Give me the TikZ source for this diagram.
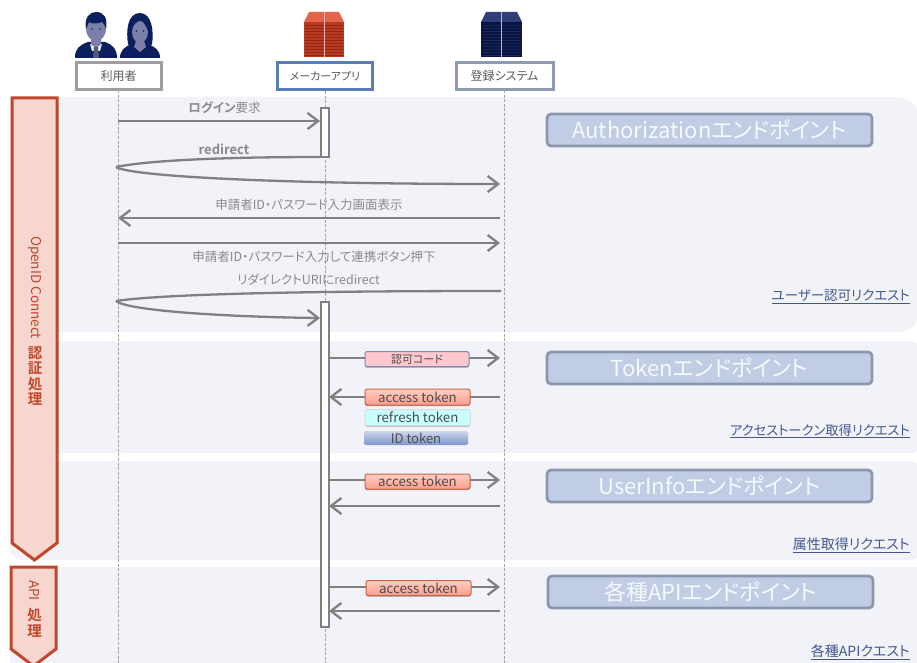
\documentclass[tikz,border=0pt]{standalone}
\usepackage{fontspec}
\setmainfont{Noto Sans CJK JP}[RawFeature=+palt]
\newfontfamily\jpbold{Noto Sans CJK JP Bold}[RawFeature=+palt]
\usetikzlibrary{arrows.meta,shadows,calc}
\definecolor{bandc}{HTML}{F1F3F9}
\definecolor{msgc}{HTML}{808080}
\definecolor{txtc}{HTML}{8A8A8A}
\definecolor{redc}{HTML}{C0472B}
\definecolor{redf}{HTML}{F6D6CF}
\definecolor{epf}{HTML}{C0CDE4}
\definecolor{epd}{HTML}{8C97AC}
\definecolor{linkc}{HTML}{44588F}
\definecolor{navy}{HTML}{0B1F5E}
\definecolor{facec}{HTML}{7A80A8}
\definecolor{hdrblue}{HTML}{5B7DB8}
\definecolor{hdrgrey}{HTML}{8F9BB3}
\definecolor{codeb}{HTML}{7F86C0}
\definecolor{codef}{HTML}{FFC8CC}
\definecolor{tokt}{HTML}{FFCFC4}
\definecolor{tokb}{HTML}{FF9C8A}
\definecolor{cyanf}{HTML}{C8FFFF}
\definecolor{idt}{HTML}{CDD6EC}
\definecolor{idb}{HTML}{7D94CC}
\definecolor{sroof}{HTML}{E6644B}
\definecolor{sbody}{HTML}{BA3A20}
\definecolor{sline}{HTML}{8F2A18}
\definecolor{nroof}{HTML}{2F3F78}
\definecolor{nbody}{HTML}{0B1440}
\definecolor{nline}{HTML}{19265A}
\tikzset{
  band/.style={fill=bandc,draw=none},
  hdr/.style={draw=#1,line width=3pt,fill=white,minimum height=27pt,inner sep=0pt,text=black!65,font=\fontsize{12}{14}\selectfont},
  life/.style={draw=black!35,line width=.8pt,dash pattern=on 3pt off 1.6pt},
  msg/.style={draw=msgc,line width=2.3pt,-{Straight Barb[length=10.5pt,width=16pt,line width=2.3pt]}},
  msgn/.style={draw=msgc,line width=2.3pt},
  lbl/.style={text=txtc,font=\fontsize{12.5}{14}\selectfont,inner sep=0pt},
  bar/.style={draw=msgc,line width=2pt,fill=white!90!bandc},
  ep/.style={draw=epd,fill=epf,line width=2.8pt,rounded corners=4pt,minimum width=325pt,minimum height=32pt,inner sep=0pt,text=white!88!epf,font=\fontsize{22}{24}\selectfont},
  pill/.style={rounded corners=2.2pt,line width=1pt,minimum height=15pt,inner sep=0pt,text=black!70,font=\fontsize{13.3}{15}\selectfont,drop shadow={shadow xshift=0pt,shadow yshift=-1.2pt,opacity=.35,fill=black}},
  linkt/.style={text=linkc,anchor=east,inner sep=0pt,font=\fontsize{14}{16}\selectfont},
  side/.style={draw=redc,fill=redf,line width=3pt,miter limit=10},
  sidet/.style={text=redc,inner sep=0pt,font=\fontsize{14}{15}\jpbold},
}
\begin{document}
\begin{tikzpicture}[x=1pt,y=-1pt]
\useasboundingbox (0,0) rectangle (917,663);
\fill[white] (0,0) rectangle (917,663);
% bands
\fill[band] (10,97) -- (893,97) .. controls (908,97) and (917,103) .. (917,112) -- (917,318) .. controls (917,326) and (908,332) .. (895,332) -- (10,332) -- cycle;
\fill[band] (10,341) -- (912,341) -- (917,343) -- (917,451) -- (912,453) -- (10,453) -- cycle;
\fill[band] (10,461) -- (912,461) -- (917,463) -- (917,558) -- (912,560) -- (25,560) .. controls (16,560) and (10,555) .. (10,548) -- cycle;
\fill[band] (10,567) -- (917,567) -- (917,663) -- (10,663) -- cycle;
% header nodes
\node[hdr=black!38,minimum width=85pt] (user) at (118.5,76) {利用者};
\node[hdr=hdrblue,minimum width=95pt,font=\fontsize{11}{13}\selectfont] (app) at (325,76.5) {メーカーアプリ};
\node[hdr=hdrgrey,minimum width=97pt] (reg) at (504.5,76) {登録システム};
% lifeline ends
\coordinate (userE) at (118,663);
\coordinate (appE) at (325,663);
\coordinate (regE) at (504,663);
\draw[life] (118,90) -- (userE);
\draw[life] (325,91) -- (appE);
\draw[life] (504,90) -- (regE);
% side arrows
\path[side] (12,98) -- (57,98) -- (57,543) -- (34.5,560) -- (12,543) -- cycle;
\path[side] (11,567) -- (56,567) -- (56,649) -- (33.5,666) -- (11,649) -- cycle;
\node[sidet,rotate=-90,font=\fontsize{13.5}{15}\selectfont] (oidc) at (35,287.5) {OpenID Connect};
\node[sidet,font=\fontsize{14.5}{15.5}\jpbold,align=center] (ninsho) at (35,376) {認\\証\\処\\理};
\node[sidet,rotate=-90,font=\fontsize{13.5}{15}\selectfont] (apit) at (34.5,590.5) {API};
\node[sidet,font=\fontsize{14.5}{15.5}\jpbold,align=center] (shori) at (34.5,623) {処\\理};
% activation bars
\node[bar,minimum width=8pt,minimum height=49pt,inner sep=0pt] (act1) at (324.5,133) {};
\node[bar,minimum width=8pt,minimum height=325pt,inner sep=0pt] (act2) at (324.5,464) {};
% message anchors
\coordinate (u1) at (118,121);
\coordinate (a1) at (320,121);
\coordinate (a2) at (320,157);
\coordinate (u2) at (116,167);
\coordinate (r2) at (500,184);
\coordinate (r3) at (500,218);
\coordinate (u3) at (118,218);
\coordinate (u4) at (118,243);
\coordinate (r4) at (500,243);
\coordinate (r5) at (501,291);
\coordinate (u5) at (116,301);
\coordinate (a5) at (320,318);
\draw[msg] (u1) -- (a1);
\draw[msgn] (a2) .. controls (230,157) and (150,160) .. (u2);
\draw[msg] (u2) .. controls (130,176) and (270,184) .. (r2);
\draw[msg] (r3) -- (u3);
\draw[msg] (u4) -- (r4);
\draw[msgn] (r5) .. controls (340,291) and (170,293) .. (u5);
\draw[msg] (u5) .. controls (128,311) and (230,317) .. (a5);
% tokens
\coordinate (a6) at (329,358); \coordinate (r6) at (500,358);
\coordinate (r7) at (500,397); \coordinate (a7) at (329,397);
\coordinate (a8) at (329,480); \coordinate (r8) at (500,480);
\coordinate (r9) at (500,506); \coordinate (a9) at (329,506);
\coordinate (a10) at (329,587); \coordinate (r10) at (500,587);
\coordinate (r11) at (500,611); \coordinate (a11) at (329,611);
\draw[msg] (a6) -- (r6);
\draw[msg] (r7) -- (a7);
\draw[msg] (a8) -- (r8);
\draw[msg] (r9) -- (a9);
\draw[msg] (a10) -- (r10);
\draw[msg] (r11) -- (a11);
\node[pill,draw=codeb,fill=codef,minimum width=104pt,font=\fontsize{11}{13}\selectfont] (code) at (417,359) {認可コード};
\node[pill,draw=redc!85,top color=tokt,bottom color=tokb,minimum width=105pt,minimum height=16pt] (at1) at (417.5,397) {access token};
\node[pill,draw=black!15,fill=cyanf,minimum width=105pt,minimum height=16pt] (rt) at (417.5,417.5) {refresh token};
\node[rounded corners=2pt,top color=idt,bottom color=idb,minimum width=104pt,minimum height=14pt,inner sep=0pt,text=black!70,font=\fontsize{13}{14}\selectfont] (idn) at (416,438) {ID token};
\node[pill,draw=redc!85,top color=tokt,bottom color=tokb,minimum width=105pt] (at2) at (417.5,481.5) {access token};
\node[pill,draw=redc!85,top color=tokt,bottom color=tokb,minimum width=105pt] (at3) at (418.5,588) {access token};
% labels
\node[lbl] (l1) at (224.5,108) {{\jpbold ログイン}要求};
\node[lbl,font=\fontsize{13}{15}\jpbold] (l2) at (224,149) {redirect};
\node[lbl] (l3) at (309,205) {申請者ID・パスワード入力画面表示};
\node[lbl] (l4) at (314,257) {申請者ID・パスワード入力して連携ボタン押下};
\node[lbl] (l5) at (308.5,280) {リダイレクトURIにredirect};
% endpoints
\node[ep] (e1) at (709.5,130) {Authorizationエンドポイント};
\node[ep] (e2) at (709.5,368) {Tokenエンドポイント};
\node[ep] (e3) at (709.5,486) {UserInfoエンドポイント};
\node[ep] (e4) at (710.5,592) {各種APIエンドポイント};
\node[linkt,font=\fontsize{13.5}{16}\selectfont] (q1) at (910,297) {\underline{ユーザー認可リクエスト}};
\node[linkt,font=\fontsize{13.3}{16}\selectfont] (q2) at (910,431) {\underline{アクセストークン取得リクエスト}};
\node[linkt] (q3) at (910,545) {\underline{属性取得リクエスト}};
\node[linkt] (q4) at (910,652) {\underline{各種APIクエスト}};
% man icon
\fill[navy] (75,58) .. controls (75,48) and (80,45) .. (88,42) -- (105,42) .. controls (113,45) and (117,49) .. (117,58) -- cycle;
\fill[facec] (91,38) -- (101,38) -- (101,45) -- (96,49) -- (91,45) -- cycle;
\fill[white!85!facec] (90,44) -- (96,48) -- (102,44) -- (100,51) -- (92,51) -- cycle;
\fill[facec!70!black] (94,47) -- (98,47) -- (99,58) -- (93,58) -- cycle;
\fill[facec] (96,29) ellipse (10 and 12);
\fill[navy] (86,29) .. controls (84,17) and (90,12) .. (96,12) .. controls (104,12) and (108,18) .. (106,29) .. controls (105,26) and (104,23) .. (102,22) .. controls (98,24) and (92,24) .. (89,22) .. controls (88,24) and (87,27) .. (86,29) -- cycle;
\fill[navy] (92,29) circle (.9) (100,29) circle (.9);
% woman icon
\fill[navy] (120,58) .. controls (120,50) and (125,47) .. (131,44) -- (148,44) .. controls (155,47) and (160,50) .. (160,58) -- cycle;
\fill[navy] (128,44) .. controls (126,32) and (127,13) .. (140,13) .. controls (152,13) and (154,32) .. (152,44) -- (148,50) -- (132,50) -- cycle;
\fill[facec] (140,32) ellipse (8 and 11);
\fill[navy] (132,30) .. controls (133,24) and (137,21) .. (142,20) .. controls (144,24) and (147,27) .. (148,31) .. controls (150,20) and (146,16) .. (140,16) .. controls (134,16) and (130,22) .. (132,30) -- cycle;
\fill[facec] (136,41) -- (144,41) -- (146,47) -- (140,52) -- (134,47) -- cycle;
\fill[navy] (136.5,31) circle (.9) (143.5,31) circle (.9);
% red server
\fill[sroof] (309,12) -- (339,12) -- (344,22) -- (304,22) -- cycle;
\fill[sbody] (304,22) rectangle (344,57);
\foreach \yy in {25,28,...,55} \draw[sline,line width=.5pt] (305,\yy) -- (343,\yy);
\draw[white!70!red,line width=.8pt] (324,12) -- (324,57);
% navy server
\fill[nroof] (486,12) -- (517,12) -- (522,22) -- (481,22) -- cycle;
\fill[nbody] (481,22) rectangle (522,57);
\foreach \yy in {25,28,...,55} \draw[nline,line width=.5pt] (482,\yy) -- (521,\yy);
\draw[white!70!blue,line width=.8pt] (501.5,12) -- (501.5,57);
\end{tikzpicture}
\end{document}
